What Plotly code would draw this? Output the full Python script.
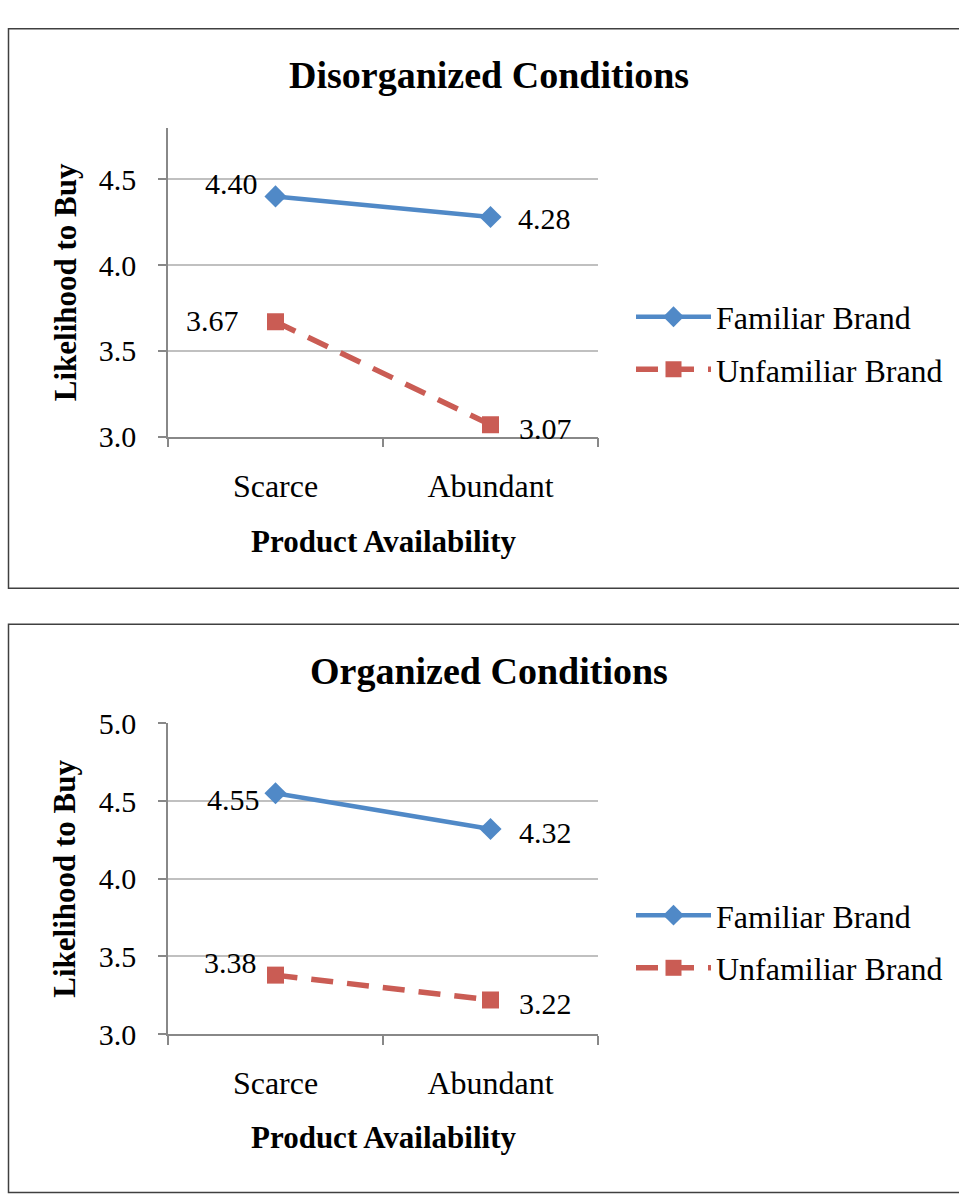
import plotly.graph_objects as go

# ---- data ----
categories = ["Scarce", "Abundant"]
disorg_familiar = [4.40, 4.28]
disorg_unfamiliar = [3.67, 3.07]
org_familiar = [4.55, 4.32]
org_unfamiliar = [3.38, 3.22]
series_names = ["Familiar Brand", "Unfamiliar Brand"]
panel_titles = ["Disorganized Conditions", "Organized Conditions"]
x_title = "Product Availability"
y_title = "Likelihood to Buy"

W, H = 959, 1194
FONT = "Liberation Serif, Times New Roman, serif"
BLUE = "#5089C7"
RED = "#CA5C54"
GRID = "#C0C0C0"
AXIS = "#888888"

def py(px):  # pixel y (from top) -> paper y
    return 1 - px / H

def pxx(px):
    return px / W

fig = go.Figure()

panels = [
    dict(fam=disorg_familiar, unf=disorg_unfamiliar, xa="x", ya="y", legend="legend",
         yrange=[3.0, 4.8], ydom=[py(432), py(114)], title=panel_titles[0],
         title_y=60, ytitle_y=273, xtitle_y=540, box=(12, 588),
         shifts=[(-16, 13, "right"), (25, -1, "left"), (-35, 1, "right"), (26, -4, "left")]),
    dict(fam=org_familiar, unf=org_unfamiliar, xa="x2", ya="y2", legend="legend2",
         yrange=[3.0, 5.0], ydom=[py(1047), py(727)], title=panel_titles[1],
         title_y=673, ytitle_y=887, xtitle_y=1153, box=(625, 1210),
         shifts=[(-14, -6, "right"), (26, -4, "left"), (-17, 13, "right"), (26, -4, "left")]),
]

annotations = []
shapes = []

for i, p in enumerate(panels):
    fig.add_trace(go.Scatter(
        x=categories, y=p["fam"], name=series_names[0], mode="lines+markers",
        line=dict(color=BLUE, width=4.5),
        marker=dict(symbol="diamond", size=17, color=BLUE),
        xaxis=p["xa"], yaxis=p["ya"], legend=p["legend"], legendgroup=f"f{i}"))
    fig.add_trace(go.Scatter(
        x=categories, y=p["unf"], name=series_names[1], mode="lines+markers",
        line=dict(color=RED, width=5.5, dash="22px,14px"),
        marker=dict(symbol="square", size=17, color=RED),
        xaxis=p["xa"], yaxis=p["ya"], legend=p["legend"], legendgroup=f"u{i}"))

    # data labels
    pts = [(categories[0], p["fam"][0]), (categories[1], p["fam"][1]),
           (categories[0], p["unf"][0]), (categories[1], p["unf"][1])]
    for (cx, cy), (dx, dy, anc) in zip(pts, p["shifts"]):
        annotations.append(dict(
            x=cx, y=cy, xref=p["xa"], yref=p["ya"], text=f"{cy:.2f}",
            showarrow=False, xanchor=anc, yanchor="middle", xshift=dx, yshift=dy,
            font=dict(family=FONT, size=30, color="#000000")))

    # titles
    annotations.append(dict(
        x=pxx(489), y=py(p["title_y"]), xref="paper", yref="paper",
        text=f"<b>{p['title']}</b>", showarrow=False, xanchor="center", yanchor="middle",
        font=dict(family=FONT, size=38, color="#000000")))
    annotations.append(dict(
        x=pxx(65), y=py(p["ytitle_y"]), xref="paper", yref="paper",
        text=f"<b>{y_title}</b>", showarrow=False, textangle=-90,
        xanchor="center", yanchor="middle",
        font=dict(family=FONT, size=31, color="#000000")))
    annotations.append(dict(
        x=pxx(383), y=py(p["xtitle_y"]), xref="paper", yref="paper",
        text=f"<b>{x_title}</b>", showarrow=False, xanchor="center", yanchor="middle",
        font=dict(family=FONT, size=31, color="#000000")))

    # border box
    shapes.append(dict(type="rect", xref="paper", yref="paper",
                       x0=pxx(8.5), x1=1.02, y0=py(p["box"][1]), y1=py(p["box"][0]),
                       line=dict(color="#404040", width=1.5), fillcolor="rgba(0,0,0,0)",
                       layer="below"))

    axis_x = dict(
        domain=[pxx(168), pxx(598)], type="category", categoryorder="array",
        categoryarray=categories, range=[-0.5, 1.5], tickson="boundaries",
        showgrid=False, showline=True, linecolor=AXIS, linewidth=1.5,
        ticks="outside", ticklen=9, tickcolor=AXIS, tickwidth=1.5,
        tickfont=dict(family=FONT, size=32, color="#000000"),
        ticklabelstandoff=20, zeroline=False, fixedrange=True)
    axis_y = dict(
        domain=p["ydom"], range=p["yrange"], dtick=0.5, tick0=3.0, tickformat=".1f",
        showgrid=True, gridcolor=GRID, gridwidth=1.5,
        showline=True, linecolor=AXIS, linewidth=1.5,
        ticks="outside", ticklen=8, tickcolor=AXIS, tickwidth=1.5,
        tickfont=dict(family=FONT, size=30, color="#000000"),
        ticklabelstandoff=16, zeroline=False, fixedrange=True)
    if i == 0:
        axis_x["anchor"] = "y"
        axis_y["anchor"] = "x"
        fig.update_layout(xaxis=axis_x, yaxis=axis_y)
    else:
        axis_x["anchor"] = "y2"
        axis_y["anchor"] = "x2"
        fig.update_layout(xaxis2=axis_x, yaxis2=axis_y)

legend_common = dict(
    xanchor="left", yanchor="middle", bgcolor="rgba(0,0,0,0)",
    font=dict(family=FONT, size=32, color="#000000"),
    tracegroupgap=8, itemwidth=75, traceorder="grouped")

fig.update_layout(
    width=W, height=H,
    margin=dict(l=0, r=0, t=0, b=0),
    paper_bgcolor="white", plot_bgcolor="white",
    showlegend=True,
    legend=dict(x=pxx(631), y=py(336), **legend_common),
    legend2=dict(x=pxx(631), y=py(952), **legend_common),
    annotations=annotations, shapes=shapes,
)

fig.write_html("out.html")
